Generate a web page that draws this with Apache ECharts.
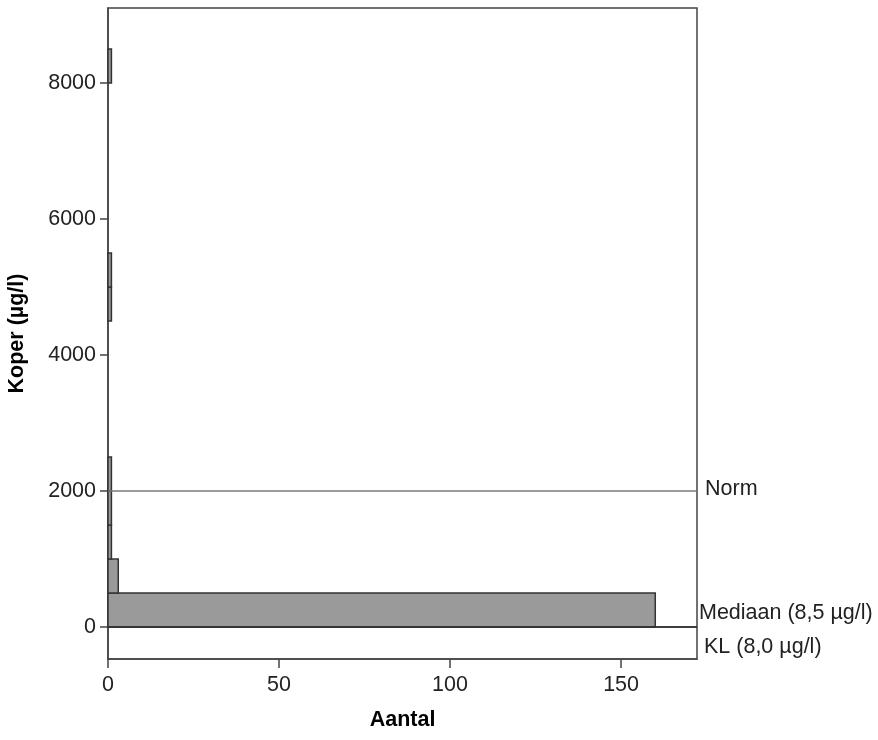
<!DOCTYPE html>
<html>
<head>
<meta charset="utf-8">
<script src="https://cdn.jsdelivr.net/npm/echarts@6/dist/echarts.min.js"></script>
<style>
html,body{margin:0;padding:0;background:#fff;}
#chart{width:878px;height:740px;}
</style>
</head>
<body>
<div id="chart"></div>
<script>
const binStart = [0, 500, 1000, 1500, 2000, 4500, 5000, 8000];
const binEnd   = [500, 1000, 1500, 2000, 2500, 5000, 5500, 8500];
const counts   = [160, 3, 1, 1, 1, 1, 1, 1];
const yTicks = [0, 2000, 4000, 6000, 8000];
const xTicks = [0, 50, 100, 150];
const refNames  = ['Norm', 'Mediaan (8,5 µg/l)', 'KL (8,0 µg/l)'];
const refValues = [2000, 8.5, 8.0];

const FONT = '"Liberation Sans", Arial, sans-serif';
const FS = 21.5;
const data = binStart.map((s, i) => [counts[i], s, binEnd[i]]);

const refColors = ['#7a7a7a', '#333333', '#333333'];
const refFmt = ['{b}\n', '{b}\n', '\n{b}'];
const refLH = [4, 27, 42];
const refDist = [8, 2, 7];
const markData = refNames.map((n, i) => ({
  name: n,
  yAxis: refValues[i],
  lineStyle: { color: refColors[i], width: 1.5, type: 'solid' },
  label: { formatter: refFmt[i], lineHeight: refLH[i], distance: refDist[i] }
}));

const chart = echarts.init(document.getElementById('chart'), null, { renderer: 'canvas' });
chart.setOption({
  animation: false,
  backgroundColor: '#ffffff',
  grid: {
    left: 108, right: 181, top: 8, bottom: 81,
    containLabel: false, outerBoundsMode: 'none',
    show: true, borderColor: '#444', borderWidth: 1.5, backgroundColor: 'transparent'
  },
  xAxis: {
    type: 'value', min: 0, max: 172.2,
    name: 'Aantal', nameLocation: 'middle', nameGap: 50,
    nameTextStyle: { fontFamily: FONT, fontWeight: 'bold', fontSize: FS, color: '#000' },
    axisLine: { show: true, onZero: false, lineStyle: { color: '#444', width: 1.5 } },
    axisTick: { show: true, length: 9, lineStyle: { color: '#444', width: 1.5 }, customValues: xTicks },
    axisLabel: { customValues: xTicks, fontFamily: FONT, fontSize: FS, color: '#222', margin: 15 },
    splitLine: { show: false }
  },
  yAxis: {
    type: 'value', min: -470, max: 9103,
    name: 'Koper (µg/l)', nameLocation: 'middle', nameGap: 80, nameRotate: 90,
    nameTextStyle: { fontFamily: FONT, fontWeight: 'bold', fontSize: FS, color: '#000' },
    axisLine: { show: true, onZero: false, lineStyle: { color: '#444', width: 1.5 } },
    axisTick: { show: true, length: 8, lineStyle: { color: '#444', width: 1.5 }, customValues: yTicks },
    axisLabel: { customValues: yTicks, formatter: v => String(v), fontFamily: FONT, fontSize: FS, color: '#222', margin: 12 },
    splitLine: { show: false }
  },
  series: [{
    type: 'custom',
    silent: true,
    clip: false,
    encode: { x: 0, y: [1, 2] },
    data: data,
    renderItem: function (params, api) {
      const p0 = api.coord([0, api.value(1)]);
      const p1 = api.coord([api.value(0), api.value(2)]);
      return {
        type: 'rect',
        shape: { x: p0[0], y: p1[1], width: p1[0] - p0[0], height: p0[1] - p1[1] },
        style: { fill: '#9a9a9a', stroke: '#333', lineWidth: 1.5 }
      };
    },
    markLine: {
      silent: true,
      symbol: 'none',
      animation: false,
      label: {
        show: true, position: 'end',
        fontFamily: FONT, fontSize: FS, color: '#222'
      },
      data: markData
    }
  }]
});
</script>
</body>
</html>
